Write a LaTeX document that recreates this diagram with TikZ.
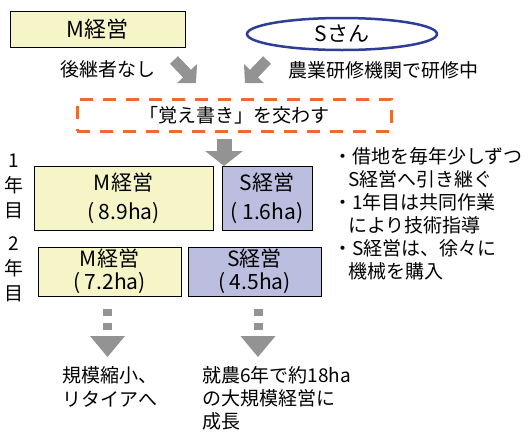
\documentclass[tikz,border=0pt]{standalone}
\usepackage{fontspec}
\setmainfont{Noto Sans CJK JP}
\usetikzlibrary{arrows.meta,shapes.geometric}
\definecolor{boxyellow}{HTML}{F5F5C8}
\definecolor{boxlav}{HTML}{BCBEE0}
\definecolor{ellblue}{HTML}{2E3D96}
\definecolor{dashorange}{HTML}{EE6A2E}
\definecolor{arrgray}{HTML}{939393}
\begin{document}
\begin{tikzpicture}[x=1pt,y=-1pt,
  ybox/.style={draw=black, line width=1pt, fill=boxyellow, inner sep=0pt, align=center},
  lbox/.style={draw=black, line width=1pt, fill=boxlav, inner sep=0pt, align=center},
  txt/.style={inner sep=0pt, font=\fontsize{19}{23}\selectfont},
  boxfont/.style={font=\fontsize{21}{#1}\selectfont},
  blockarrow/.style={draw=arrgray, line width=#1},
  dotarrow/.style={draw=arrgray, line width=9pt, dash pattern=on 7pt off 7pt},
  tri/.style={fill=arrgray, draw=none}
]
\useasboundingbox (0,0) rectangle (532,437);

% top row
\node[ybox, minimum width=175pt, minimum height=36pt, font=\fontsize{22}{26}\selectfont] (mtop) at (97.5,29) {M経営};
\node[ellipse, draw=ellblue, line width=2.5pt, fill=white, minimum width=190pt, minimum height=32pt, inner sep=0pt, font=\fontsize{21}{25}\selectfont] (stop) at (342,34) {Sさん};

\node[txt] (nosucc) at (108,69) {後継者なし};
\node[txt] (training) at (383,70) {農業研修機関で研修中};

% diagonal arrows
\coordinate (d1s) at (174,60);
\coordinate (d1e) at (196,83);
\coordinate (d2s) at (267,60);
\coordinate (d2e) at (245,83);
\draw[blockarrow=11pt, -{Triangle[width=27pt,length=13pt]}] (d1s) -- (d1e);
\draw[blockarrow=11pt, -{Triangle[width=27pt,length=13pt]}] (d2s) -- (d2e);

% memorandum box
\node[draw=dashorange, line width=3pt, dash pattern=on 13pt off 10pt, minimum width=314pt, minimum height=32pt, inner sep=0pt, font=\fontsize{19}{23}\selectfont] (memo) at (234,115) {「覚え書き」を交わす};

% down arrow
\coordinate (dnend) at (224,166);
\draw[blockarrow=15pt, -{Triangle[width=37pt,length=15pt]}] (memo.south -| dnend) ++(0,6) coordinate (dnstart) -- (dnend);

% year labels
\node[inner sep=0pt, align=center, font=\fontsize{19}{25}\selectfont] (y1) at (14,186) {1\\年\\目};
\node[inner sep=0pt, align=center, font=\fontsize{19}{25}\selectfont] (y2) at (14,269) {2\\年\\目};

% year 1 boxes
\node[ybox, boxfont=29, minimum width=179pt, minimum height=64pt] (m1) at (123.5,198) {M経営\\( 8.9ha)};
\node[lbox, boxfont=29, minimum width=90pt, minimum height=64pt] (s1) at (267,198) {S経営\\( 1.6ha)};

% year 2 boxes
\node[ybox, boxfont=23, minimum width=143pt, minimum height=49pt] (m2) at (109.5,271.5) {M経営\\( 7.2ha)};
\node[lbox, boxfont=23, minimum width=133pt, minimum height=49pt] (s2) at (254.5,271.5) {S経営\\( 4.5ha)};

% bullet notes
\node[txt, anchor=west] (b1) at (333,156) {・借地を毎年少しずつ};
\node[txt, anchor=west] (b2) at (348,179) {S経営へ引き継ぐ};
\node[txt, anchor=west] (b3) at (333,202) {・1年目は共同作業};
\node[txt, anchor=west] (b4) at (348,225) {により技術指導};
\node[txt, anchor=west] (b5) at (333,248) {・S経営は、徐々に};
\node[txt, anchor=west] (b6) at (348,271) {機械を購入};

% dotted arrows
\coordinate (mtri) at (107.5,357);
\coordinate (stri) at (258,357);
\draw[dotarrow] (m2.south -| mtri) ++(0,12) -- ++(0,21);
\draw[dotarrow] (s2.south -| stri) ++(0,12) -- ++(0,21);
\fill[tri] (90,336) -- (125,336) -- (mtri) -- cycle;
\fill[tri] (240.5,336) -- (275.5,336) -- (stri) -- cycle;

% outcomes
\node[inner sep=0pt, anchor=north west, align=left, font=\fontsize{19}{24}\selectfont] (mout) at (62,366) {規模縮小、\\リタイアへ};
\node[inner sep=0pt, anchor=north west, align=left, font=\fontsize{19}{23}\selectfont] (sout) at (202,366) {就農6年で約18ha\\の大規模経営に\\成長};
\end{tikzpicture}
\end{document}
